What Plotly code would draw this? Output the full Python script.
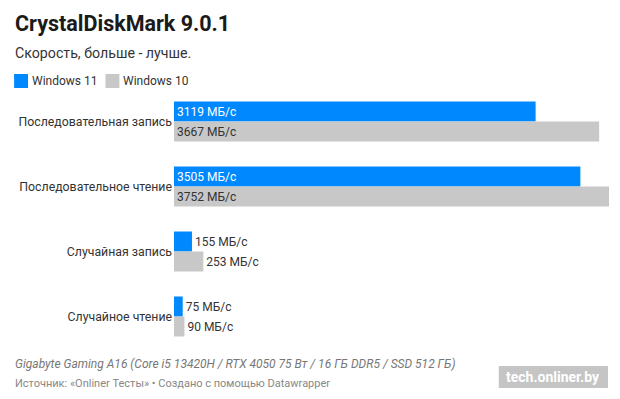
import plotly.graph_objects as go

categories = ["Последовательная запись", "Последовательное чтение", "Случайная запись", "Случайное чтение"]
win11 = [3119, 3505, 155, 75]
win10 = [3667, 3752, 253, 90]
series_names = ["Windows 11", "Windows 10"]
unit = " МБ/с"

BLUE = "#0089ff"
GRAY = "#c8c8c8"
TXT = "#333333"

# page body has an 8px margin; lay out in reference pixel coords and offset
OFF = 8
W, H = 620 - OFF, 399 - OFF
L = 171 - OFF
T = 89 - OFF
R = W - (609 - OFF)
B = H - (349 - OFF)
PW = W - L - R
PH = H - T - B

def px(x):
    return (x - OFF - L) / PW

def py(y):
    return (H - B - (y - OFF)) / PH

def positions(vals):
    return ["inside" if v > 1000 else "outside" for v in vals]

fig = go.Figure()
for name, vals, col, intxt in [(series_names[0], win11, BLUE, "white"), (series_names[1], win10, GRAY, TXT)]:
    fig.add_trace(go.Bar(
        y=categories, x=vals, orientation="h", name=name,
        marker=dict(color=col, line=dict(width=0)),
        text=[f"{v}{unit}" for v in vals],
        textposition=positions(vals),
        insidetextanchor="start",
        insidetextfont=dict(color=intxt, size=12, family="Roboto"),
        outsidetextfont=dict(color=TXT, size=12, family="Roboto"),
        textangle=0,
        cliponaxis=False,
        showlegend=False,
        hoverinfo="skip",
    ))

fig.update_layout(
    width=W, height=H,
    margin=dict(l=L, r=R, t=T, b=B),
    paper_bgcolor="white", plot_bgcolor="white",
    barmode="group", bargap=25/65, bargroupgap=0,
    font=dict(family="Roboto", color=TXT, size=12),
    xaxis=dict(range=[0, 3752], visible=False, fixedrange=True),
    yaxis=dict(autorange="reversed", showgrid=False, zeroline=False, showline=False,
               ticks="", ticklabelstandoff=1, tickfont=dict(size=12.3, color=TXT, family="Roboto")),
)

ann = []
ann.append(dict(x=px(9), y=py(23), xref="paper", yref="paper", xanchor="left", yanchor="middle",
                text="<b>CrystalDiskMark 9.0.1</b>", showarrow=False,
                font=dict(size=21.5, color="#1a1a1a", family="Roboto")))
ann.append(dict(x=px(9), y=py(53), xref="paper", yref="paper", xanchor="left", yanchor="middle",
                text="Скорость, больше - лучше.", showarrow=False,
                font=dict(size=14.2, color="#333333", family="Roboto")))
shapes = []
for sx, col, name in [(10, BLUE, series_names[0]), (102, GRAY, series_names[1])]:
    shapes.append(dict(type="rect", xref="paper", yref="paper", x0=px(sx), x1=px(sx + 14),
                       y0=py(88), y1=py(74), fillcolor=col, line=dict(width=0)))
    ann.append(dict(x=px(sx + 16), y=py(81), xref="paper", yref="paper", xanchor="left", yanchor="middle",
                    text=name, showarrow=False, font=dict(size=12, color=TXT, family="Roboto")))
ann.append(dict(x=px(9), y=py(364), xref="paper", yref="paper", xanchor="left", yanchor="middle",
                text="<i>Gigabyte Gaming A16 (Core i5 13420H / RTX 4050 75 Вт / 16 ГБ DDR5 / SSD 512 ГБ)</i>",
                showarrow=False, font=dict(size=12, color="#777777", family="Roboto")))
ann.append(dict(x=px(9), y=py(383), xref="paper", yref="paper", xanchor="left", yanchor="middle",
                text="Источник: «Onliner Тесты» • Создано с помощью Datawrapper",
                showarrow=False, font=dict(size=11, color="#888888", family="Roboto")))
shapes.append(dict(type="rect", xref="paper", yref="paper", x0=px(498), x1=px(608),
                   y0=py(388), y1=py(366), fillcolor="rgba(150,150,150,0.55)", line=dict(width=0)))
ann.append(dict(x=px(553), y=py(377), xref="paper", yref="paper", xanchor="center", yanchor="middle",
                text="<b>tech.onliner.by</b>", showarrow=False,
                font=dict(size=14, color="white", family="Roboto")))

fig.update_layout(annotations=ann, shapes=shapes)
fig.write_html("out.html")
